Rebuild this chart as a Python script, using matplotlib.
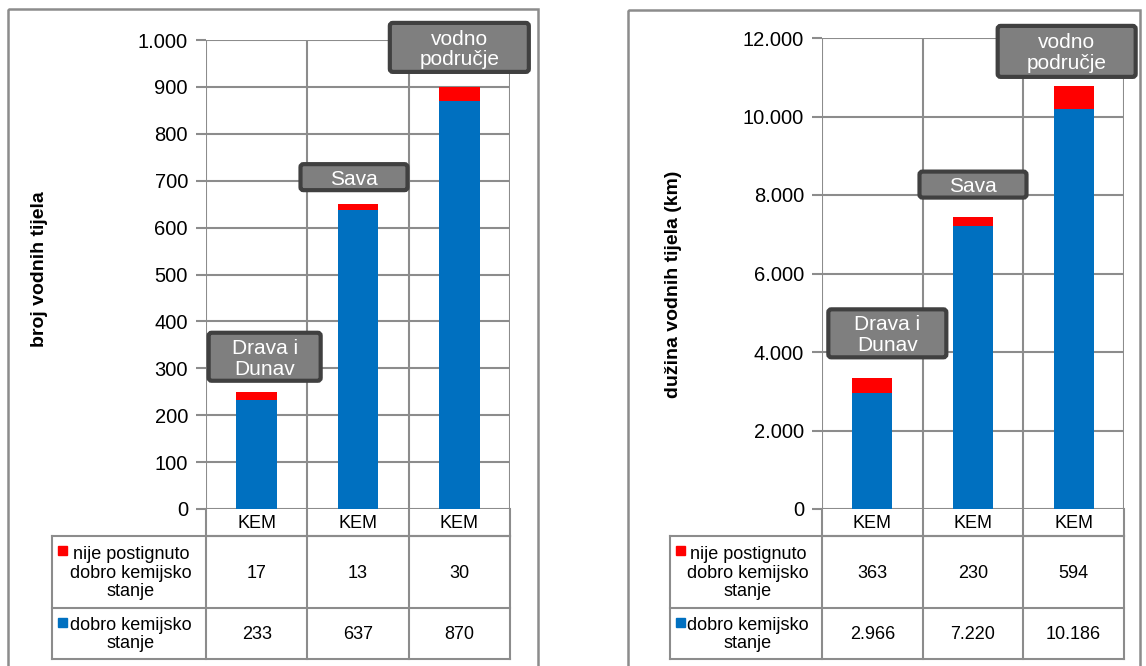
import matplotlib
matplotlib.use('Agg')
import matplotlib.pyplot as plt
from matplotlib.patches import Rectangle, FancyBboxPatch
from matplotlib.ticker import FuncFormatter

plt.rcParams['font.family'] = ['Liberation Sans', 'DejaVu Sans']

categories = ['KEM', 'KEM', 'KEM']
regions = ['Drava i\nDunav', 'Sava', 'vodno\npodručje']
series_names = ['nije postignuto\ndobro kemijsko\nstanje', 'dobro kemijsko\nstanje']

# broj vodnih tijela
count_bad = [17, 13, 30]
count_good = [233, 637, 870]
# duzina vodnih tijela (km)
length_bad = [363, 230, 594]
length_good = [2966, 7220, 10186]

BLUE = '#0070c0'
RED = '#ff0000'
GRID = '#8c8c8c'
W, H = 1146, 666


def fmt(v):
    return f'{v:,.0f}'.replace(',', '.')


fig = plt.figure(figsize=(W / 100, H / 100), dpi=100)
ov = fig.add_axes([0, 0, 1, 1], zorder=5)
ov.set_xlim(0, W)
ov.set_ylim(H, 0)
ov.axis('off')
ov.patch.set_alpha(0)


def panel(box, plot_px, head_x, ymax, ystep, ylabel, ylabel_xy, good, bad, label_px):
    bx0, by0, bx1, by1 = box
    ov.add_patch(Rectangle((bx0, by0), bx1 - bx0, by1 - by0, fill=False,
                           ec=GRID, lw=1.8))
    x0, y0, x1, y1 = plot_px
    ax = fig.add_axes([x0 / W, 1 - y1 / H, (x1 - x0) / W, (y1 - y0) / H])
    idx = range(len(good))
    ax.bar(idx, good, width=0.4, color=BLUE, zorder=3)
    ax.bar(idx, bad, width=0.4, bottom=good, color=RED, zorder=3)
    ax.set_xlim(-0.5, len(good) - 0.5)
    ax.set_ylim(0, ymax)
    ax.set_yticks(range(0, ymax + 1, ystep))
    ax.yaxis.set_major_formatter(FuncFormatter(lambda v, p: fmt(v)))
    ax.set_xticks([])
    for i in range(len(good) + 1):
        ax.axvline(i - 0.5, color=GRID, lw=1.5, zorder=1)
    ax.grid(axis='y', color=GRID, lw=1.5, zorder=1)
    for s in ax.spines.values():
        s.set_visible(False)
    ax.tick_params(axis='y', length=7, width=1.5, color=GRID, labelsize=14.5, pad=6)
    ov.text(ylabel_xy[0], ylabel_xy[1], ylabel, rotation=90,
            fontsize=14, fontweight='bold', ha='center', va='center')

    # data table below the axis
    rows = [509, 536, 608, 659]
    ov.plot([x0, x1], [rows[1], rows[1]], color=GRID, lw=1.5)
    for yy in rows[1:]:
        ov.plot([head_x, x1], [yy, yy], color=GRID, lw=1.5)
    ov.plot([head_x, head_x], [rows[1], rows[3]], color=GRID, lw=1.5)
    for i in range(len(good) + 1):
        px = ax.transData.transform((i - 0.5, 0))[0]
        ov.plot([px, px], [rows[0], rows[3]], color=GRID, lw=1.5)
    hc = (head_x + x0) / 2 + 2
    for i, (g, b) in enumerate(zip(good, bad)):
        px = ax.transData.transform((i, 0))[0]
        ov.text(px, (rows[0] + rows[1]) / 2 + 1, categories[i], ha='center', va='center', fontsize=13)
        ov.text(px, (rows[1] + rows[2]) / 2 + 1, fmt(b), ha='center', va='center', fontsize=13)
        ov.text(px, (rows[2] + rows[3]) / 2 + 1, fmt(g), ha='center', va='center', fontsize=13)
    ov.text(hc, (rows[1] + rows[2]) / 2 + 1, series_names[0], ha='center', va='center',
            fontsize=13, linespacing=1.15)
    ov.text(hc, (rows[2] + rows[3]) / 2 + 1, series_names[1], ha='center', va='center',
            fontsize=13, linespacing=1.15)
    ov.add_patch(Rectangle((head_x + 6, 546), 9, 9, color=RED))
    ov.add_patch(Rectangle((head_x + 6, 618), 9, 9, color=BLUE))

    # region label boxes above bars
    for i, (g, b) in enumerate(zip(good, bad)):
        px, py = ax.transData.transform((i, g + b))
        py = H - py
        dx, gap, bw, bh = label_px[i]
        cx = px + dx
        ov.add_patch(FancyBboxPatch((cx - bw / 2, py - gap - bh), bw, bh,
                                    boxstyle='round,pad=0,rounding_size=3',
                                    fc='#7f7f7f', ec='#404040', lw=3, zorder=6))
        ov.text(cx, py - gap - bh / 2 + 2, regions[i], ha='center', va='center',
                color='white', fontsize=15, linespacing=1.12, zorder=7)
    return ax


panel((8, 9, 538, 700), (206, 40, 510, 509), 52, 1000, 100,
      'broj vodnih tijela', (40, 269), count_good, count_bad,
      [(8, 11, 112, 48), (-4, 14, 107, 26), (0, 15, 139, 49)])
panel((628, 10, 1140, 700), (822, 38, 1124, 509), 670, 12000, 2000,
      'dužina vodnih tijela (km)', (673, 284), length_good, length_bad,
      [(15, 21, 118, 48), (0, 19, 107, 26), (-7, 9, 138, 51)])

fig.savefig('out.png', dpi=100)
